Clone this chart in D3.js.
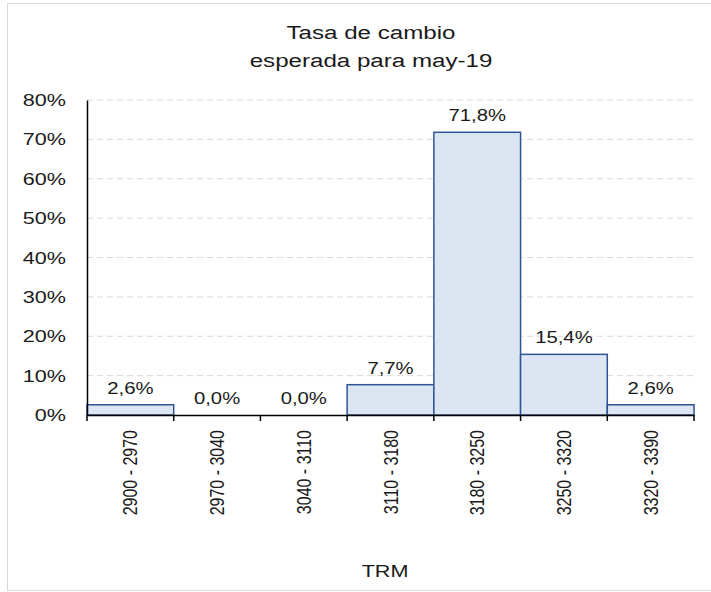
<!DOCTYPE html>
<html>
<head>
<meta charset="utf-8">
<script src="https://cdn.jsdelivr.net/npm/d3@7"></script>
<style>
  body { margin: 0; background: #fff; }
  svg { display: block; font-family: "Liberation Sans", Arial, sans-serif; }
</style>
</head>
<body>
<svg id="chart" width="711" height="592"></svg>
<script>
// data
const categories = ["2900 - 2970", "2970 - 3040", "3040 - 3110", "3110 - 3180", "3180 - 3250", "3250 - 3320", "3320 - 3390"];
const values = [2.6, 0.0, 0.0, 7.7, 71.8, 15.4, 2.6];
const yTicks = [0, 10, 20, 30, 40, 50, 60, 70, 80];
const titleLines = ["Tasa de cambio", "esperada para may-19"];
const xTitle = "TRM";

const margin = { top: 100, right: 17, bottom: 177, left: 87 };
const w = 711 - margin.left - margin.right;
const h = 592 - margin.top - margin.bottom;
const sx = 1.27; // text in the original is a bit wider than it is tall

const svg = d3.select("#chart");

// outer chart frame
svg.append("rect")
    .attr("x", 7.5).attr("y", 3.5)
    .attr("width", 720).attr("height", 587)
    .attr("fill", "#fff")
    .attr("stroke", "#d9d9d9")
    .attr("stroke-width", 1);

const g = svg.append("g")
    .attr("transform", `translate(${margin.left},${margin.top})`);

const x = d3.scaleBand().domain(categories).range([0, w]).padding(0);
const y = d3.scaleLinear().domain([0, 80]).range([h, 0]);

// stretched text helper
function stext(parent, tx, ty, anchor, size, str, rot) {
    return parent.append("text")
        .attr("transform", `translate(${tx},${ty}) scale(${sx},1)` + (rot ? ` rotate(${rot})` : ""))
        .attr("text-anchor", anchor)
        .style("font-size", size + "px")
        .attr("fill", "#1a1a1a")
        .text(str);
}

// gridlines
g.append("g")
    .selectAll("line")
    .data(yTicks.filter(d => d > 0))
    .enter().append("line")
    .attr("x1", 0).attr("x2", w)
    .attr("y1", d => y(d)).attr("y2", d => y(d))
    .attr("stroke", "#d9d9d9")
    .attr("stroke-width", 1)
    .style("stroke-dasharray", "6,4");

// bars
g.selectAll(".bar")
    .data(values)
    .enter().append("rect")
    .attr("class", "bar")
    .attr("x", (d, i) => x(categories[i]))
    .attr("y", d => y(d))
    .attr("width", x.bandwidth())
    .attr("height", d => h - y(d))
    .attr("fill", "#dce6f2")
    .attr("stroke", "#2f5496")
    .attr("stroke-width", 1.5);

// value labels
const lbl = g.append("g");
values.forEach((d, i) => {
    stext(lbl, x(categories[i]) + x.bandwidth() / 2, y(d) - 11, "middle", 16,
        d.toFixed(1).replace(".", ",") + "%");
});

// y axis
const yAxis = g.append("g")
    .call(d3.axisLeft(y).tickValues(yTicks).tickSize(0).tickFormat(""));
yAxis.select(".domain").attr("stroke", "#000").attr("stroke-width", 1.5);
const ylab = g.append("g");
yTicks.forEach(t => stext(ylab, -21, y(t) + 6, "end", 17, t + "%"));

// x axis
const xAxis = g.append("g")
    .attr("transform", `translate(0,${h})`)
    .call(d3.axisBottom(x).tickSize(0).tickFormat(""));
xAxis.select(".domain").attr("stroke", "#000").attr("stroke-width", 1.5);

// tick marks at band boundaries
g.append("g")
    .selectAll("line")
    .data(d3.range(categories.length + 1))
    .enter().append("line")
    .attr("x1", i => i * x.step()).attr("x2", i => i * x.step())
    .attr("y1", h).attr("y2", h + 6)
    .attr("stroke", "#000")
    .attr("stroke-width", 1.5);

// rotated category labels
const xlab = g.append("g");
categories.forEach(c => {
    stext(xlab, x(c) + x.bandwidth() / 2 + 7, h + 15, "end", 16, c, -90);
});

// x title
stext(svg, 385, 577, "middle", 17, xTitle);

// title
titleLines.forEach((t, i) => stext(svg, 371, 39 + i * 28, "middle", 19, t));
</script>
</body>
</html>
